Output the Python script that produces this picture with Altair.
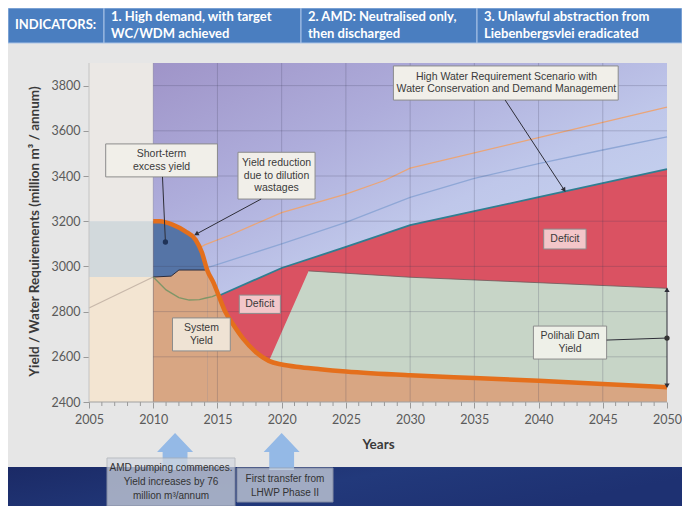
import altair as alt
import pandas as pd

# ---------------- data ----------------
yield_years = [2010, 2010.5, 2011.5, 2012.5, 2013.3, 2013.8, 2014.2, 2014.7, 2015.1, 2015.6, 2016.2,
               2017, 2018, 2019, 2020, 2021.5, 2023, 2025, 2030, 2035, 2040, 2045, 2050]
yield_vals = [3200, 3200, 3185, 3155, 3118, 3060, 2984, 2927, 2870, 2800, 2745,
              2680, 2620, 2582, 2566, 2554, 2545, 2535, 2518, 2506, 2494, 2480, 2465]
excess_base_years = [2010, 2011.4, 2012, 2014.2]
excess_base_vals = [2953, 2957, 2984, 2984]
dilution_years = [2010, 2011, 2012, 2012.8, 2013.6, 2014.1, 2014.6, 2014.95]
dilution_vals = [2953, 2896, 2862, 2851, 2853, 2860, 2866, 2875]
hist_years = [2005, 2010]
hist_vals = [2816, 2953]
high_req_years = [2010, 2014, 2016, 2020, 2025, 2028, 2030, 2040, 2050]
high_req_vals = [2953, 3095, 3139, 3238, 3320, 3380, 3435, 3570, 3705]
mid_req_years = [2010, 2014, 2020, 2025, 2030, 2035, 2040, 2045, 2050]
mid_req_vals = [2953, 2990, 3100, 3195, 3305, 3390, 3455, 3515, 3573]
wcdm_years = [2015.1, 2020, 2025, 2030, 2035, 2040, 2045, 2050]
wcdm_vals = [2870, 2993, 3086, 3183, 3245, 3306, 3368, 3430]
polihali_years = [2019, 2022.1, 2030, 2040, 2050]
polihali_vals = [2580, 2980, 2952, 2928, 2903]
x_ticks = [2005, 2010, 2015, 2020, 2025, 2030, 2035, 2040, 2045, 2050]
y_ticks = [2400, 2600, 2800, 3000, 3200, 3400, 3600, 3800]
minor_years = [y for y in range(2005, 2051) if y % 5]

header_labels = ["INDICATORS:", "1. High demand, with target\nWC/WDM achieved",
                 "2. AMD: Neutralised only,\nthen discharged",
                 "3. Unlawful abstraction from\nLiebenbergsvlei eradicated"]

boxes = pd.DataFrame([
    dict(x1=2006.3, x2=2015.0, y1=3396, y2=3542, fill="#f1efe9"),
    dict(x1=2016.6, x2=2022.6, y1=3298, y2=3505, fill="#f1efe9"),
    dict(x1=2028.7, x2=2046.2, y1=3736, y2=3887, fill="#f1efe9"),
    dict(x1=2011.5, x2=2016.0, y1=2626, y2=2772, fill="#efe3d4"),
    dict(x1=2039.6, x2=2045.3, y1=2590, y2=2736, fill="#eef0e8"),
    dict(x1=2040.4, x2=2043.7, y1=3077, y2=3165, fill="#f3c6c9"),
    dict(x1=2016.7, x2=2019.9, y1=2792, y2=2873, fill="#f3c6c9"),
])
labels = pd.DataFrame([
    dict(x=2010.65, y=3469, t="Short-term\nexcess yield"),
    dict(x=2019.6, y=3401, t="Yield reduction\ndue to dilution\nwastages"),
    dict(x=2037.5, y=3811, t="High Water Requirement Scenario with\nWater Conservation and Demand Management"),
    dict(x=2042.05, y=3121, t="Deficit"),
    dict(x=2018.3, y=2832, t="Deficit"),
    dict(x=2013.75, y=2699, t="System\nYield"),
    dict(x=2042.45, y=2663, t="Polihali Dam\nYield"),
])
leaders = pd.DataFrame([
    dict(x=2010.72, y=3396, x2=2010.95, y2=3108),
    dict(x=2018.4, y=3298, x2=2013.35, y2=3143),
    dict(x=2037.4, y=3736, x2=2042.0, y2=3338),
    dict(x=2045.3, y=2674, x2=2050, y2=2683),
    dict(x=2050, y=2903, x2=2050, y2=2466),
])
dots = pd.DataFrame([dict(x=2010.95, y=3108, c="#1f3358"), dict(x=2050, y=2683, c="#333333")])
heads = pd.DataFrame([
    dict(x=2013.35, y=3143, a=242), dict(x=2042.0, y=3338, a=146),
    dict(x=2050, y=2897, a=0), dict(x=2050, y=2472, a=180),
])
event_years = [2011.7, 2020.0]

# ---------------- helpers ----------------
W, H = 578, 339
XS = alt.Scale(domain=[2005, 2050], nice=False, zero=False)
YS = alt.Scale(domain=[2400, 3900], nice=False, zero=False)
NOTE_FONT = "Liberation Sans, Arial, sans-serif"
LH = 12.5
labels["y"] = labels["y"] + (labels["t"].str.count("\n") * LH / 2) * 1500 / H


def X(f):
    return alt.X(f, type="quantitative", scale=XS)


def Y(f):
    return alt.Y(f, type="quantitative", scale=YS)


def series(xs, ys):
    return pd.DataFrame({"year": xs, "v": ys})


one = pd.DataFrame({"a": [0]})
layers = []

# axes carrier (explicit axis settings; other layers leave axes unspecified)
axis_kw = dict(labelFont="Lato", labelFontSize=12.5, labelColor="#5a5a5a", tickColor="#9a9a9a",
               domain=False, tickSize=6, grid=False, labelFlush=False, titleFont="Lato",
               titleFontSize=13.5, titleFontWeight="bold", titleColor="#3a3a3a")
layers.append(alt.Chart(pd.DataFrame({"year": [2005, 2050], "v": [2400, 2400]})).mark_point(opacity=0).encode(
    x=alt.X("year:Q", scale=XS, axis=alt.Axis(values=x_ticks, format="d", title="Years", labelPadding=5,
                                              titleX=289, titleY=42, titleBaseline="middle", **axis_kw)),
    y=alt.Y("v:Q", scale=YS, axis=alt.Axis(values=y_ticks, format="d", labelPadding=3,
                                           title="Yield / Water Requirements (million m³ / annum)",
                                           titleX=-55, titleY=168, titleAngle=-90, titleAlign="center",
                                           titleBaseline="middle", **axis_kw))))

# header and bottom band (decoration, pixel positioned)
cells = [(-81, 15), (15, 212), (212, 388), (388, 593)]
for (a, b) in cells:
    layers.append(alt.Chart(one).mark_rect(color="#4a7ec0", stroke="#a9c3e6", strokeWidth=1).encode(
        x=alt.value(a), x2=alt.value(b), y=alt.value(-55), y2=alt.value(-20)))
for (a, _), lab in zip(cells, header_labels):
    n = lab.count("\n")
    layers.append(alt.Chart(one).mark_text(
        text=lab.split("\n"), align="left", baseline="middle", font="Lato", fontSize=13,
        fontWeight="bold", color="white", lineHeight=17).encode(
        x=alt.value(a + 7), y=alt.value(-38 - 8.5 * n)))
band = alt.Gradient(gradient="linear", x1=0, y1=0, x2=1, y2=0.3, stops=[
    alt.GradientStop(color="#1b2a66", offset=0), alt.GradientStop(color="#22397b", offset=0.55),
    alt.GradientStop(color="#1e3172", offset=1)])
layers.append(alt.Chart(one).mark_rect(color=band).encode(
    x=alt.value(-81), x2=alt.value(593), y=alt.value(404), y2=alt.value(443)))

# plot background regions
left = pd.DataFrame([
    dict(x1=2005, x2=2010, y1=3200, y2=3900, c="#ebe8e5"),
    dict(x1=2005, x2=2010, y1=2953, y2=3200, c="#d2d9dc"),
    dict(x1=2005, x2=2010, y1=2400, y2=2953, c="#f3e5d2"),
])
layers.append(alt.Chart(left).mark_rect().encode(
    x=X("x1"), x2="x2", y=Y("y1"), y2="y2", color=alt.Color("c:N", scale=None)))
grad = alt.Gradient(gradient="linear", x1=0, y1=0, x2=0.7, y2=1, stops=[
    alt.GradientStop(color="#9f94c8", offset=0), alt.GradientStop(color="#aeaddb", offset=0.3),
    alt.GradientStop(color="#bfc7ea", offset=0.55), alt.GradientStop(color="#c6d4f0", offset=0.8),
    alt.GradientStop(color="#cad9f2", offset=1)])
layers.append(alt.Chart(pd.DataFrame([dict(x1=2010, x2=2050, y1=2400, y2=3900)])).mark_rect(color=grad).encode(
    x=X("x1"), x2="x2", y=Y("y1"), y2="y2"))

# thin requirement lines
layers.append(alt.Chart(series(hist_years, hist_vals)).mark_line(color="#c8b8aa", strokeWidth=1.3).encode(
    x=X("year"), y=Y("v")))
layers.append(alt.Chart(series(high_req_years, high_req_vals)).mark_line(color="#eaa578", strokeWidth=1.3).encode(
    x=X("year"), y=Y("v")))
layers.append(alt.Chart(series(mid_req_years, mid_req_vals)).mark_line(color="#8fa7d6", strokeWidth=1.3).encode(
    x=X("year"), y=Y("v")))

# deficit, Polihali, system yield, excess yield areas
layers.append(alt.Chart(series(wcdm_years, wcdm_vals)).mark_area(color="#da5262").encode(
    x=X("year"), y=Y("v"), y2=alt.datum(2400)))
layers.append(alt.Chart(series(polihali_years, polihali_vals)).mark_area(color="#c7d5c7").encode(
    x=X("year"), y=Y("v"), y2=alt.datum(2400)))
layers.append(alt.Chart(series(yield_years, yield_vals)).mark_area(color="#d8a683").encode(
    x=X("year"), y=Y("v"), y2=alt.datum(2400)))
layers.append(alt.Chart(series(yield_years, yield_vals)).transform_filter(
    alt.datum.year <= 2014.2).mark_area(color="#5574a6").encode(
    x=X("year"), y=Y("v"), y2=alt.datum(2400)))
layers.append(alt.Chart(series(excess_base_years, excess_base_vals)).mark_area(color="#d8a683").encode(
    x=X("year"), y=Y("v"), y2=alt.datum(2400)))
layers.append(alt.Chart(series(excess_base_years, excess_base_vals)).mark_line(color="#2c2c3c", strokeWidth=1).encode(
    x=X("year"), y=Y("v")))
layers.append(alt.Chart(series(dilution_years, dilution_vals)).mark_line(color="#7f9668", strokeWidth=1.4).encode(
    x=X("year"), y=Y("v")))
layers.append(alt.Chart(series(polihali_years[1:], polihali_vals[1:])).mark_line(color="#6b5c5c", strokeWidth=0.8).encode(
    x=X("year"), y=Y("v")))
layers.append(alt.Chart(series(wcdm_years, wcdm_vals)).mark_line(color="#2f7f92", strokeWidth=1.8).encode(
    x=X("year"), y=Y("v")))

# gridlines and axis lines
vgrid = pd.DataFrame({"year": x_ticks[1:-1], "lo": 2400, "hi": 3900})
hgrid = pd.DataFrame({"v": y_ticks[1:], "lo": 2010, "hi": 2050})
layers.append(alt.Chart(vgrid).mark_rule(color="#3a3a55", opacity=0.22, strokeWidth=1).encode(
    x=X("year"), y=Y("lo"), y2="hi"))
layers.append(alt.Chart(hgrid).mark_rule(color="#3a3a55", opacity=0.22, strokeWidth=1).encode(
    y=Y("v"), x=X("lo"), x2="hi"))
axlines = pd.DataFrame([dict(x=2005, y=2400, x2=2050, y2=2400, c="#a0a0a0"),
                        dict(x=2005, y=2400, x2=2005, y2=3900, c="#c4c4c4")])
layers.append(alt.Chart(axlines).mark_rule(strokeWidth=1).encode(
    x=X("x"), y=Y("y"), x2="x2", y2="y2", color=alt.Color("c:N", scale=None)))
layers.append(alt.Chart(pd.DataFrame({"year": minor_years})).mark_rule(color="#9a9a9a").encode(
    x=X("year"), y=alt.value(H), y2=alt.value(H + 4)))

# system yield line
layers.append(alt.Chart(series(yield_years, yield_vals)).mark_line(
    color="#e46f1c", strokeWidth=4.5, interpolate="monotone").encode(x=X("year"), y=Y("v")))

# annotation boxes, leaders, labels
layers.append(alt.Chart(boxes).mark_rect(stroke="#8c8c8c", strokeWidth=1).encode(
    x=X("x1"), x2="x2", y=Y("y1"), y2="y2", fill=alt.Fill("fill:N", scale=None)))
layers.append(alt.Chart(leaders).mark_rule(color="#2e2e38", strokeWidth=1).encode(
    x=X("x"), y=Y("y"), x2="x2", y2="y2"))
layers.append(alt.Chart(dots).mark_point(filled=True, size=28, opacity=1).encode(
    x=X("x"), y=Y("y"), color=alt.Color("c:N", scale=None)))
layers.append(alt.Chart(heads).mark_point(shape="triangle-up", filled=True, size=28, color="#2e2e38", opacity=1).encode(
    x=X("x"), y=Y("y"), angle=alt.Angle("a:Q", scale=None)))
layers.append(alt.Chart(labels).mark_text(font=NOTE_FONT, fontSize=10.5, color="#3a3a3a", lineBreak="\n",
                                          lineHeight=LH, align="center", baseline="middle").encode(
    x=X("x"), y=Y("y"), text="t:N"))

# event arrows and notes under the axis
arrow_path = "M0,-1L1,0.05L0.69,0.05L0.69,1.05L-0.69,1.05L-0.69,0.05L-1,0.05Z"
layers.append(alt.Chart(pd.DataFrame({"year": event_years})).mark_point(
    shape=arrow_path, filled=True, size=1296, color="#8fb6e6", opacity=0.95, strokeWidth=0).encode(
    x=X("year"), y=alt.value(388)))
notes = [((18, 146, 395, 443), ["AMD pumping commences.", "Yield increases by 76", "million m³/annum"], 82, 405),
         ((148, 244, 405, 439), ["First transfer from", "LHWP Phase II"], 196, 416)]
for (a, b, c, d), lines, tx, ty in notes:
    layers.append(alt.Chart(one).mark_rect(color="#d3d8e0", opacity=0.72, stroke="#a9adb5", strokeWidth=1).encode(
        x=alt.value(a), x2=alt.value(b), y=alt.value(c), y2=alt.value(d)))
    layers.append(alt.Chart(one).mark_text(text=lines, font=NOTE_FONT, fontSize=10, color="#333333",
                                           lineHeight=14, align="center", baseline="middle").encode(
        x=alt.value(tx), y=alt.value(ty)))

chart = alt.layer(*layers).properties(
    width=W, height=H, autosize="none",
    padding={"left": 81, "top": 55, "right": 15, "bottom": 104},
    background="#e6e6e6",
).configure_view(stroke=None)

chart.save("out.html", embed_options={"renderer": "svg", "actions": False})
